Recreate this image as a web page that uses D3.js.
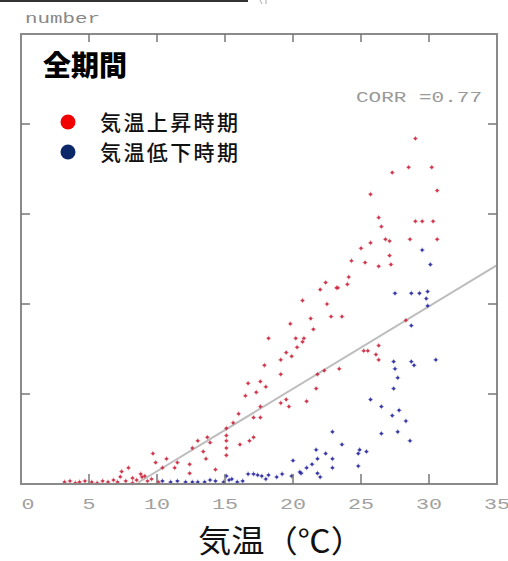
<!DOCTYPE html>
<html>
<head>
<meta charset="utf-8">
<script src="https://cdn.jsdelivr.net/npm/d3@7"></script>
<style>
  body { margin: 0; background: #fff; }
  svg { display: block; }
</style>
</head>
<body>
<svg id="chart" width="508" height="561"></svg>
<script>
// temperature (C) and count pairs
const riseTemp = [29.0,28.5,30.2,27.3,30.6,25.7,26.3,26.5,25.7,26.8,27.1,25.0,27.1,24.3,25.3,26.3,27.2,24.1,23.2,22.4,
  22.0,24.0,20.7,22.5,21.3,22.8,23.6,19.8,29.0,29.5,30.3,28.6,30.6,28.3,23.3,25.2,25.5,26.3,26.1,26.3,
  23.4,22.3,21.5,18.2,20.2,20.8,20.3,19.5,19.9,19.1,17.9,19.1,21.8,17.6,18.0,17.3,21.7,21.0,19.1,19.5,
  19.7,17.6,17.6,17.1,16.0,17.1,15.6,15.1,15.1,13.7,13.0,13.9,16.8,16.1,15.1,15.1,15.1,13.4,13.6,12.6,
  14.3,12.4,12.4,11.5,11.3,10.7,9.7,9.9,10.4,7.9,7.4,7.3,16.5,16.7,20.7,
  3.2,3.6,4.0,4.3,4.7,5.2,5.6,6.0,6.4,6.8,7.1,7.7,8.2,8.5,8.9,9.3,9.6,10.1,8.8,9.1,8.2];
const riseCount = [192,176,176,173,163,161,148,143,134,136,135,131,127,124,123,121,122,115,109,112,
  108,111,102,100,92,93,93,89,146,146,146,136,136,91,109,74,74,77,72,69,
  64,63,86,81,81,81,76,73,71,69,66,61,61,57,54,51,53,46,45,47,
  43,43,37,26,39,37,34,31,27,26,24,23,24,22,24,20,16,18,14,20,
  8,11,6,12,9,14,17,12,9,9,7,4,49,56,79,
  1.1,1.7,0.6,1.1,1.7,1.1,0.6,1.7,1.1,2.2,1.1,1.7,0.6,2.2,3.9,1.7,2.8,1.1,5.6,4.4,3.3];

const fallTemp = [29.5,28.7,29.3,29.9,29.8,27.5,29.9,28.7,30.1,27.4,28.7,28.9,30.5,27.5,27.7,27.4,25.7,26.5,27.8,27.3,
  28.3,22.9,27.7,26.5,28.6,23.6,24.9,24.8,25.4,21.7,22.4,22.9,22.9,21.8,21.4,21.0,20.6,20.0,24.8,21.8,
  22.0,19.9,19.2,18.2,18.0,17.7,17.1,20.5,18.8,17.4,16.7,15.9,15.5,15.3,14.3,13.5,13.0,12.6,14.9,12.1,
  11.5,11.0,10.4,13.9,16.3,15.1];
const fallCount = [130,106,106,107,103,106,99,88,122,68,68,66,69,64,59,53,47,43,41,38,
  35,29,29,28,24,22,19,17,18,19,17,14,9,14,11,9,6,13,10,6,
  3.9,4.4,5.6,5,2.8,4.4,5.6,6.7,3.9,5,5.6,1.1,2.8,2.2,1.7,1.1,1.1,1.1,1.1,1.1,
  1.7,1.1,1.7,2.2,1.7,4.4];

const xTicks = [0, 5, 10, 15, 20, 25, 30, 35];
const yTicks = [50, 100, 150, 200];
const seriesNames = ['気温上昇時期', '気温低下時期'];
const corrLabel = 'CORR =0.77';
const fitSlope = 4.58, fitIntercept = -38.7, fitFrom = 8.6, fitTo = 35;

const jp = '"Noto Sans CJK JP", "Noto Sans", sans-serif';
const mono = '"Liberation Mono", "DejaVu Sans Mono", monospace';

const svg = d3.select('#chart');
const pl = 21, pr = 497, pt = 34, pb = 484;

const x = d3.scaleLinear().domain([0, 35]).range([pl, pr]);
const y = d3.scaleLinear().domain([0, 250]).range([pb, pt]);

// cropped bits from the source page
svg.append('line').attr('x1', 0).attr('x2', 248).attr('y1', 1).attr('y2', 1)
  .attr('stroke', '#333').attr('stroke-width', 2);
svg.append('path').attr('d', 'M260 0 L262 4 M266 0 L266 4')
  .attr('stroke', '#aaa').attr('stroke-width', 1).attr('fill', 'none');

svg.append('text').attr('x', 25).attr('y', 23)
  .attr('font-family', mono).attr('font-size', 14).attr('fill', '#888')
  .attr('textLength', 75).attr('lengthAdjust', 'spacingAndGlyphs')
  .text('number');

// fit line
svg.append('line')
  .attr('x1', x(fitFrom)).attr('y1', y(fitSlope * fitFrom + fitIntercept))
  .attr('x2', x(fitTo)).attr('y2', y(fitSlope * fitTo + fitIntercept))
  .attr('stroke', '#bdbdbd').attr('stroke-width', 2);

// points, drawn as small crosses with a dark centre
function drawPoints(tx, cy, col) {
  const pts = svg.append('g').selectAll('g')
    .data(d3.zip(tx, cy))
    .enter().append('g')
    .attr('transform', d => 'translate(' + [x(d[0]), y(d[1])] + ')');
  pts.append('path')
    .attr('d', 'M-2.5 0H2.5M0 -2.5V2.5')
    .attr('stroke', col).attr('stroke-width', 1).attr('opacity', 0.45);
  pts.append('circle')
    .attr('r', 1.5)
    .attr('fill', col)
    .attr('opacity', 0.9);
}
drawPoints(riseTemp, riseCount, '#cc2a40');
drawPoints(fallTemp, fallCount, '#2a2aa0');

// frame
svg.append('rect').attr('x', pl).attr('y', pt)
  .attr('width', pr - pl).attr('height', pb - pt)
  .attr('fill', 'none').attr('stroke', '#8a8a8a').attr('stroke-width', 2);

const tk = svg.append('g').attr('stroke', '#777').attr('stroke-width', 1.5);
xTicks.filter(d => d > 0 && d < 35).forEach(d => {
  tk.append('line').attr('x1', x(d)).attr('x2', x(d)).attr('y1', pt).attr('y2', pt + 8);
  tk.append('line').attr('x1', x(d)).attr('x2', x(d)).attr('y1', pb).attr('y2', pb - 10);
});
yTicks.forEach(d => {
  tk.append('line').attr('x1', pl).attr('x2', pl + 9).attr('y1', y(d)).attr('y2', y(d));
  tk.append('line').attr('x1', pr).attr('x2', pr - 9).attr('y1', y(d)).attr('y2', y(d));
});

svg.append('g').selectAll('text')
  .data(xTicks)
  .enter().append('text')
  .attr('x', d => x(d) + (d === 0 ? 7 : 0))
  .attr('y', 509)
  .attr('text-anchor', 'middle')
  .attr('font-family', mono).attr('font-size', 15).attr('fill', '#a0a0a0')
  .attr('textLength', d => String(d).length * 13)
  .attr('lengthAdjust', 'spacingAndGlyphs')
  .text(d => d);

svg.append('text').attr('x', 281).attr('y', 552)
  .attr('text-anchor', 'middle')
  .attr('font-family', jp).attr('font-size', 31).attr('fill', '#111')
  .attr('textLength', 166).attr('lengthAdjust', 'spacingAndGlyphs')
  .text('気温（℃）');

// title, corr, legend
svg.append('text').attr('x', 43).attr('y', 76)
  .attr('font-family', jp).attr('font-size', 28).attr('font-weight', 900).attr('fill', '#000')
  .text('全期間');

svg.append('text').attr('x', 482).attr('y', 102)
  .attr('text-anchor', 'end')
  .attr('font-family', mono).attr('font-size', 14).attr('fill', '#999')
  .attr('textLength', 126).attr('lengthAdjust', 'spacingAndGlyphs')
  .text(corrLabel);

const legend = svg.append('g').selectAll('g')
  .data(seriesNames)
  .enter().append('g')
  .attr('transform', (d, i) => 'translate(' + [68, 122 + i * 30] + ')');
legend.append('circle').attr('r', 7.5)
  .attr('fill', (d, i) => i === 0 ? '#f00000' : '#0c2868');
legend.append('text').attr('x', 32).attr('y', 8)
  .attr('font-family', jp).attr('font-size', 21).attr('font-weight', 500).attr('fill', '#111')
  .attr('textLength', 138).attr('lengthAdjust', 'spacing')
  .text(d => d);
</script>
</body>
</html>
